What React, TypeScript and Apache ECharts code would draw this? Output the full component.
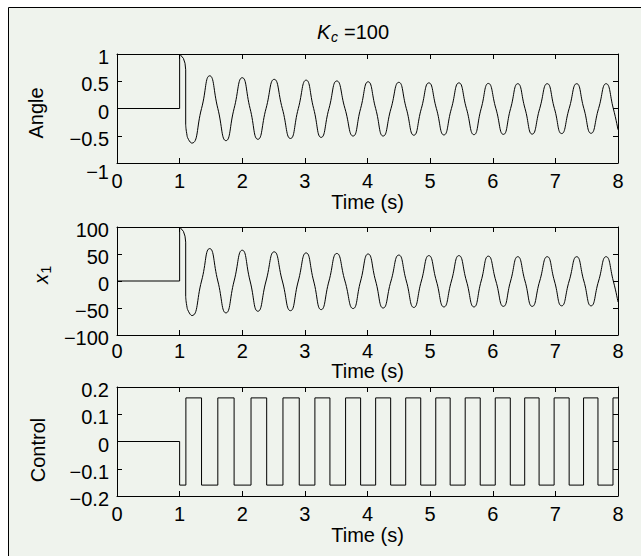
import React, { useEffect, useRef } from 'react';
import * as echarts from 'echarts';

// ---- data ----
const xTicks = [0, 1, 2, 3, 4, 5, 6, 7, 8];
const angleTicks = [-1, -0.5, 0, 0.5, 1];
const x1Ticks = [-100, -50, 0, 50, 100];
const controlTicks = [-0.2, -0.1, 0, 0.1, 0.2];

// initial step / impulse part (straight segments)
const transientTime = [0, 1.0, 1.0, 1.06, 1.086, 1.097, 1.097];
const transientAngle = [0, 0, 1.0, 0.92, 0.83, 0.71, -0.3];
const transientX1 = [0, 0, 100, 92, 83, 72, -29];

// oscillation: start of swing, troughs, zero crossings, peaks
const oscTime = [
  1.097, 1.113, 1.14, 1.195, 1.35, 1.48, 1.61, 1.74, 1.87, 2.0, 2.125, 2.25, 2.38, 2.51, 2.64, 2.77,
  2.895, 3.02, 3.14, 3.26, 3.385, 3.51, 3.64, 3.77, 3.89, 4.01, 4.13, 4.25, 4.375, 4.5, 4.62, 4.74,
  4.86, 4.98, 5.1, 5.22, 5.34, 5.46, 5.58, 5.7, 5.815, 5.93, 6.05, 6.17, 6.285, 6.4, 6.515, 6.63,
  6.75, 6.87, 6.985, 7.1, 7.22, 7.34, 7.455, 7.57, 7.69, 7.81, 7.925, 8.0,
];
const oscAngle = [
  -0.3, -0.455, -0.565, -0.635, 0, 0.6, 0, -0.59, 0, 0.565, 0, -0.565, 0, 0.535, 0, -0.55,
  0, 0.52, 0, -0.53, 0, 0.505, 0, -0.505, 0, 0.49, 0, -0.505, 0, 0.48, 0, -0.49,
  0, 0.47, 0, -0.485, 0, 0.47, 0, -0.48, 0, 0.46, 0, -0.475, 0, 0.455, 0, -0.47,
  0, 0.455, 0, -0.46, 0, 0.455, 0, -0.455, 0, 0.455, 0, -0.39,
];
const oscX1 = [
  -29, -45, -56, -64, 0, 60, 0, -59, 0, 57, 0, -56, 0, 54, 0, -55,
  0, 52, 0, -53, 0, 51, 0, -51, 0, 50, 0, -50, 0, 48, 0, -49,
  0, 47, 0, -48, 0, 47, 0, -48, 0, 46, 0, -47, 0, 45, 0, -47,
  0, 45, 0, -46, 0, 45, 0, -46, 0, 45, 0, -39,
];

// relay control: switching instants and the level after each switch
const switchTime = [
  0, 1.0, 1.1, 1.35, 1.61, 1.87, 2.14, 2.39, 2.65, 2.91, 3.16, 3.4, 3.65, 3.89, 4.13, 4.37,
  4.61, 4.85, 5.09, 5.32, 5.56, 5.8, 6.04, 6.28, 6.51, 6.74, 6.98, 7.22, 7.45, 7.68, 7.92, 8.0,
];
const controlLevel = [
  0, -0.16, 0.16, -0.16, 0.16, -0.16, 0.16, -0.16, 0.16, -0.16, 0.16, -0.16, 0.16, -0.16, 0.16, -0.16,
  0.16, -0.16, 0.16, -0.16, 0.16, -0.16, 0.16, -0.16, 0.16, -0.16, 0.16, -0.16, 0.16, -0.16, 0.16, 0.16,
];

const xLabel = 'Time (s)';
const titleMain = 'K';
const titleSub = 'c';
const titleRest = '=100';

// ---- layout / style ----
const FONT = '"Liberation Sans", Arial, Helvetica, sans-serif';
const BG = '#eff3ed';
const INK = '#000';

const pairs = (xs: number[], ys: number[]) => xs.map((x, i) => [x, ys[i]]);

function buildOption() {
  const plots = [
    { grid: { left: 117, top: 54, width: 501, height: 109 }, ticks: angleTicks, labelMargin: 8, nameGap: 29 },
    { grid: { left: 117, top: 227, width: 501, height: 108 }, ticks: x1Ticks, labelMargin: 5.5, nameGap: 23 },
    { grid: { left: 117, top: 387, width: 501, height: 109 }, ticks: controlTicks, labelMargin: 8, nameGap: 28 },
  ];
  const xMin = xTicks[0];
  const xMax = xTicks[xTicks.length - 1];
  const xInt = xTicks[1] - xTicks[0];

  const grid: any[] = [];
  const xAxis: any[] = [];
  const yAxis: any[] = [];
  plots.forEach((p, i) => {
    grid.push({ ...p.grid, show: false, containLabel: false });
    const yMin = p.ticks[0];
    const yMax = p.ticks[p.ticks.length - 1];
    const yInt = Math.round((p.ticks[1] - p.ticks[0]) * 1000) / 1000;
    const common = {
      type: 'value',
      gridIndex: i,
      axisLine: { show: true, onZero: false, lineStyle: { color: INK, width: 1 } },
      axisTick: { show: true, inside: true, length: 5, lineStyle: { color: INK, width: 1 } },
      splitLine: { show: false },
    };
    xAxis.push({
      ...common,
      position: 'bottom',
      min: xMin,
      max: xMax,
      interval: xInt,
      axisLabel: {
        color: INK,
        fontSize: 20,
        fontFamily: FONT,
        margin: p.labelMargin,
        formatter: (v: number) => String(Math.round(v * 1000) / 1000),
      },
      name: xLabel,
      nameLocation: 'middle',
      nameGap: p.nameGap,
      nameTextStyle: { color: INK, fontSize: 20, fontFamily: FONT },
    });
    xAxis.push({
      ...common,
      position: 'top',
      min: xMin,
      max: xMax,
      interval: xInt,
      axisLabel: { show: false },
    });
    yAxis.push({
      ...common,
      position: 'left',
      min: yMin,
      max: yMax,
      interval: yInt,
      axisLabel: {
        color: INK,
        fontSize: 20,
        fontFamily: FONT,
        margin: 8,
        padding: [6, 0, 0, 0],
        formatter: (v: number) => {
          const r = Math.round(v * 1000) / 1000;
          const s = (r < 0 ? '\u2212' : '') + String(Math.abs(r));
          if (i === 0 && r === yMin) return '{low|' + s + '}';
          return s;
        },
        rich: {
          low: { color: INK, fontSize: 20, fontFamily: FONT, padding: [12, 0, 0, 0] },
        },
      },
    });
    yAxis.push({
      ...common,
      position: 'right',
      min: yMin,
      max: yMax,
      interval: yInt,
      axisLabel: { show: false },
    });
  });

  const lineBase = {
    type: 'line',
    showSymbol: false,
    symbol: 'none',
    clip: true,
    lineStyle: { color: INK, width: 1 },
    emphasis: { disabled: true },
    z: 3,
  };

  const series: any[] = [
    { ...lineBase, name: 'Angle', xAxisIndex: 0, yAxisIndex: 0, data: pairs(transientTime, transientAngle) },
    { ...lineBase, name: 'Angle', xAxisIndex: 0, yAxisIndex: 0, smooth: 0.55, data: pairs(oscTime, oscAngle) },
    { ...lineBase, name: 'x1', xAxisIndex: 2, yAxisIndex: 2, data: pairs(transientTime, transientX1) },
    { ...lineBase, name: 'x1', xAxisIndex: 2, yAxisIndex: 2, smooth: 0.55, data: pairs(oscTime, oscX1) },
    { ...lineBase, name: 'Control', xAxisIndex: 4, yAxisIndex: 4, step: 'end', data: pairs(switchTime, controlLevel) },
  ];

  const txt = (text: string, extra: any = {}) => ({
    text,
    fill: INK,
    fontSize: 20,
    fontFamily: FONT,
    align: 'left',
    verticalAlign: 'middle',
    ...extra,
  });

  const graphic: any[] = [
    {
      type: 'rect',
      z: -100,
      silent: true,
      shape: { x: 8.5, y: 7.5, width: 700, height: 600 },
      style: { fill: BG, stroke: INK, lineWidth: 1 },
    },
    // title K_c =100
    { type: 'text', x: 317, y: 32.4, silent: true, style: txt(titleMain, { fontStyle: 'italic' }) },
    { type: 'text', x: 331, y: 36.9, silent: true, style: txt(titleSub, { fontStyle: 'italic', fontSize: 14 }) },
    { type: 'text', x: 344, y: 32.4, silent: true, style: txt(titleRest) },
    // y labels
    {
      type: 'text', x: 36, y: 113, rotation: Math.PI / 2, silent: true,
      style: txt('Angle', { align: 'center' }),
    },
    {
      type: 'group', x: 41, y: 284, rotation: Math.PI / 2, silent: true,
      children: [
        { type: 'text', x: 0, y: 0, style: txt('x', { fontStyle: 'italic' }) },
        { type: 'text', x: 10.5, y: 4.5, style: txt('1', { fontSize: 14 }) },
      ],
    },
    {
      type: 'text', x: 38, y: 450, rotation: Math.PI / 2, silent: true,
      style: txt('Control', { align: 'center' }),
    },
  ];

  return {
    animation: false,
    backgroundColor: '#ffffff',
    textStyle: { fontFamily: FONT },
    grid,
    xAxis,
    yAxis,
    series,
    graphic,
  };
}

export default function App() {
  const ref = useRef<HTMLDivElement>(null);
  useEffect(() => {
    if (!ref.current) return;
    const chart = echarts.init(ref.current, undefined, { renderer: 'svg' });
    chart.setOption(buildOption() as any);
    return () => chart.dispose();
  }, []);
  return (
    <div
      ref={ref}
      style={{ position: 'fixed', left: 0, top: 0, width: 641, height: 556, background: '#fff' }}
    />
  );
}
